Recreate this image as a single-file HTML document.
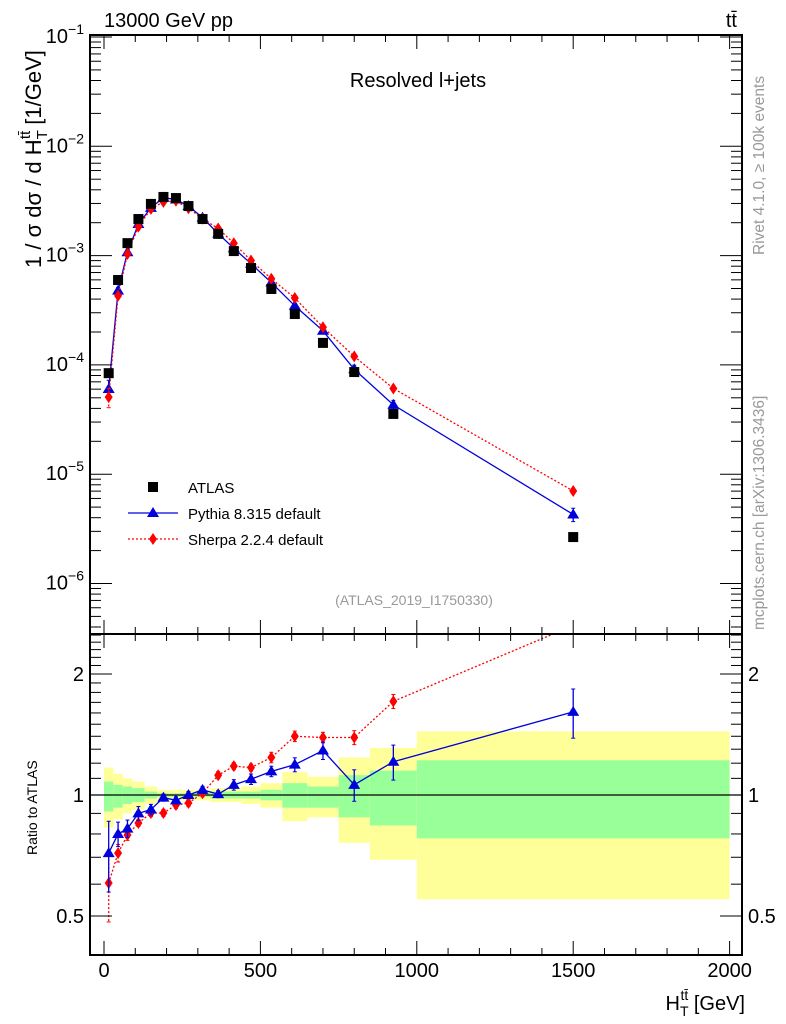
<!DOCTYPE html>
<html><head><meta charset="utf-8"><style>
body{margin:0;background:#fff;}
svg{display:block;font-family:"Liberation Sans",sans-serif;}
</style></head><body>
<svg id="chart" width="786" height="1024" viewBox="0 0 786 1024" xmlns="http://www.w3.org/2000/svg">
<rect width="786" height="1024" fill="#fff"/>
<g id="ratioBands"></g>
<g id="main"></g>
<g id="ratio"></g>
<g id="axes"></g>
<text x="104" y="27" font-size="20">13000 GeV pp</text>
<text x="737" y="27" font-size="20" text-anchor="end">tt̄</text>
<text x="418" y="87" font-size="20" text-anchor="middle">Resolved l+jets</text>
<text x="414" y="605" font-size="14" fill="#999" text-anchor="middle">(ATLAS_2019_I1750330)</text>
<text transform="translate(764,255) rotate(-90)" font-size="15.5" fill="#999">Rivet 4.1.0, ≥ 100k events</text>
<text transform="translate(764,630) rotate(-90)" font-size="15.5" fill="#999">mcplots.cern.ch [arXiv:1306.3436]</text>
<text transform="translate(41,268) rotate(-90)" font-size="22">1 / σ dσ / d H<tspan font-size="15" dy="6">T</tspan><tspan font-size="15" dy="-17" dx="-9">tt̄</tspan><tspan dy="11"> [1/GeV]</tspan></text>
<text transform="translate(37,855) rotate(-90)" font-size="14">Ratio to ATLAS</text>
<text x="745" y="1010" font-size="20" text-anchor="end">H<tspan font-size="14" dy="6">T</tspan><tspan font-size="14" dy="-16" dx="-8">tt̄</tspan><tspan dy="10"> [GeV]</tspan></text>
<g>
<rect x="148" y="482" width="10" height="10" fill="#000"/>
<text x="188" y="493" font-size="15">ATLAS</text>
<line x1="128" y1="513" x2="178" y2="513" stroke="#0000dd" stroke-width="1.3"/>
<polygon points="153,507 159,517 147,517" fill="#0000dd"/>
<text x="188" y="519" font-size="15">Pythia 8.315 default</text>
<line x1="128" y1="539" x2="178" y2="539" stroke="#f00" stroke-width="1.3" stroke-dasharray="2,2"/>
<polygon points="153,533 157,539 153,545 149,539" fill="#f00"/>
<text x="188" y="545" font-size="15">Sherpa 2.2.4 default</text>
</g>
</svg>
<script>
const binEdges=[0,30,60,90,130,170,210,250,290,340,390,440,500,570,650,750,850,1000,2000];
const binCenters=[15,45,75,110,150,190,230,270,315,365,415,470,535,610,700,800,925,1500];
const atlasValues=[8.4e-5,5.98e-4,1.30e-3,2.16e-3,2.97e-3,3.44e-3,3.36e-3,2.84e-3,2.16e-3,1.58e-3,1.10e-3,7.7e-4,4.95e-4,2.92e-4,1.59e-4,8.6e-5,3.56e-5,2.66e-6];
const pythiaRatio=[0.717,0.80,0.825,0.90,0.92,0.985,0.97,1.0,1.03,1.005,1.06,1.095,1.145,1.19,1.29,1.06,1.21,1.61];
const pythiaRelErr=[0.2,0.07,0.05,0.04,0.03,0.02,0.02,0.02,0.02,0.02,0.03,0.03,0.03,0.04,0.05,0.09,0.1,0.14];
const sherpaRatio=[0.604,0.717,0.795,0.852,0.902,0.902,0.944,0.955,1.01,1.12,1.18,1.17,1.24,1.40,1.39,1.39,1.71,2.64];
const sherpaRelErr=[0.2,0.05,0.03,0.02,0.02,0.02,0.02,0.02,0.02,0.02,0.02,0.02,0.03,0.03,0.03,0.04,0.04,0.05];
const yellowUp=[1.17,1.13,1.10,1.08,1.05,1.03,1.03,1.03,1.03,1.04,1.04,1.05,1.07,1.14,1.11,1.24,1.31,1.44];
const yellowDn=[0.83,0.87,0.90,0.92,0.95,0.97,0.97,0.97,0.97,0.96,0.96,0.95,0.93,0.86,0.88,0.76,0.69,0.55];
const greenUp=[1.08,1.06,1.05,1.04,1.02,1.01,1.01,1.01,1.01,1.02,1.02,1.02,1.03,1.07,1.05,1.12,1.15,1.22];
const greenDn=[0.91,0.93,0.95,0.96,0.98,0.99,0.99,0.99,0.99,0.98,0.98,0.98,0.97,0.93,0.93,0.88,0.84,0.78];
const xTickLabels=[0,500,1000,1500,2000];

const NS="http://www.w3.org/2000/svg";
const L=90,R=742,T=35,MB=634,B=955;
const X=v=>104+v*0.3128;
const Y=v=>37+(-1-Math.log10(v))*109.3;
const RY=v=>795-Math.log2(v)*121;
function mk(p,tag,a){const e=document.createElementNS(NS,tag);for(const k in a)e.setAttribute(k,a[k]);p.appendChild(e);return e;}
const main=document.getElementById('main'),ratio=document.getElementById('ratio'),bands=document.getElementById('ratioBands'),axes=document.getElementById('axes');

for(let i=0;i<binCenters.length;i++){
  const x0=X(binEdges[i]),x1=X(binEdges[i+1]);
  const y=mk(bands,'rect',{x:x0,y:RY(yellowUp[i]),width:x1-x0,height:RY(yellowDn[i])-RY(yellowUp[i]),fill:'#ffff99'});
  
  
  const g=mk(bands,'rect',{x:x0,y:RY(greenUp[i]),width:x1-x0,height:RY(greenDn[i])-RY(greenUp[i]),fill:'#99ff99'});
  
  
}
mk(ratio,'line',{x1:L,x2:R,y1:RY(1),y2:RY(1),stroke:'#000','stroke-width':1.3});

const defs=mk(document.getElementById('chart'),'defs',{});
const cp=mk(defs,'clipPath',{id:'rclip'});mk(cp,'rect',{x:L,y:MB,width:R-L,height:B-MB});
ratio.setAttribute('clip-path','url(#rclip)');

function series(parent,vals,errs,color,dash,marker,name,ymap){
  const pts=binCenters.map((c,i)=>X(c)+','+ymap(vals[i])).join(' ');
  const pl=mk(parent,'polyline',{points:pts,fill:'none',stroke:color,'stroke-width':1.3});
  if(dash)pl.setAttribute('stroke-dasharray','2,2');
  
  
  binCenters.forEach((c,i)=>{
    const x=X(c),y=ymap(vals[i]);
    const y1=ymap(vals[i]*(1+errs[i])),y2=ymap(vals[i]*(1-errs[i]));
    mk(parent,'line',{x1:x,x2:x,y1:y1,y2:y2,stroke:color,'stroke-width':1.3,'stroke-dasharray':dash?'2,2':'none'});
    mk(parent,'line',{x1:x-2,x2:x+2,y1:y1,y2:y1,stroke:color,'stroke-width':1});
    mk(parent,'line',{x1:x-2,x2:x+2,y1:y2,y2:y2,stroke:color,'stroke-width':1});
    let m;
    if(marker==='tri')m=mk(parent,'polygon',{points:`${x},${y-6} ${x+6},${y+4} ${x-6},${y+4}`,fill:color});
    else m=mk(parent,'polygon',{points:`${x},${y-6} ${x+4},${y} ${x},${y+6} ${x-4},${y}`,fill:color});
    
    
  });
}
const pythiaVals=atlasValues.map((v,i)=>v*pythiaRatio[i]);
const sherpaVals=atlasValues.map((v,i)=>v*sherpaRatio[i]);
series(main,pythiaVals,pythiaRelErr,'#0000dd',false,'tri','pythia',Y);
series(main,sherpaVals,sherpaRelErr,'#ff0000',true,'dia','sherpa',Y);
atlasValues.forEach((v,i)=>{
  const r=mk(main,'rect',{x:X(binCenters[i])-5,y:Y(v)-5,width:10,height:10,fill:'#000'});
  
  
});
series(ratio,sherpaRatio,sherpaRelErr,'#ff0000',true,'dia','sherpa-ratio',RY);
series(ratio,pythiaRatio,pythiaRelErr,'#0000dd',false,'tri','pythia-ratio',RY);

mk(axes,'rect',{x:L,y:T,width:R-L,height:MB-T,fill:'none',stroke:'#000','stroke-width':2});
mk(axes,'rect',{x:L,y:MB,width:R-L,height:B-MB,fill:'none',stroke:'#000','stroke-width':2});
for(let v=0;v<=2000;v+=100){
  const x=X(v),big=v%500===0,h=big?14:7;
  [[T,1],[MB,-1],[MB,1],[B,-1]].forEach(([y,d])=>mk(axes,'line',{x1:x,x2:x,y1:y,y2:y+d*h,stroke:'#000','stroke-width':1}));
}
xTickLabels.forEach(v=>{const t=mk(axes,'text',{x:X(v),y:977,'font-size':20,'text-anchor':'middle'});t.textContent=v;
 
 });
for(let e=-7;e<=-1;e++){
  for(let k=1;k<10;k++){
    const v=k*Math.pow(10,e),y=Y(v);if(y<T-0.5||y>MB)continue;
    const h=k===1?22:11;
    mk(axes,'line',{x1:L,x2:L+h,y1:y,y2:y,stroke:'#000','stroke-width':1});
    mk(axes,'line',{x1:R,x2:R-h,y1:y,y2:y,stroke:'#000','stroke-width':1});
    if(k===1){const t=mk(axes,'text',{x:84,y:y+6,'font-size':20,'text-anchor':'end'});
      t.innerHTML='10<tspan font-size="14" dy="-9">−'+(-e)+'</tspan>';
      
      }
  }
}
[0.4,0.5,0.6,0.7,0.8,0.9,1,1.1,1.2,1.3,1.4,1.5,1.6,1.7,1.8,1.9,2,2.1,2.2,2.3,2.4,2.5].forEach(v=>{
  const y=RY(v);if(y<MB||y>B)return;const big=(v===0.5||v===1||v===2);const h=big?22:11;
  mk(axes,'line',{x1:L,x2:L+h,y1:y,y2:y,stroke:'#000','stroke-width':1});
  mk(axes,'line',{x1:R,x2:R-h,y1:y,y2:y,stroke:'#000','stroke-width':1});
  if(big){[[84,'end'],[748,'start']].forEach(([x,a])=>{const t=mk(axes,'text',{x:x,y:y+7,'font-size':20,'text-anchor':a});t.textContent=v;
    
    });}
});
</script>
</body></html>
